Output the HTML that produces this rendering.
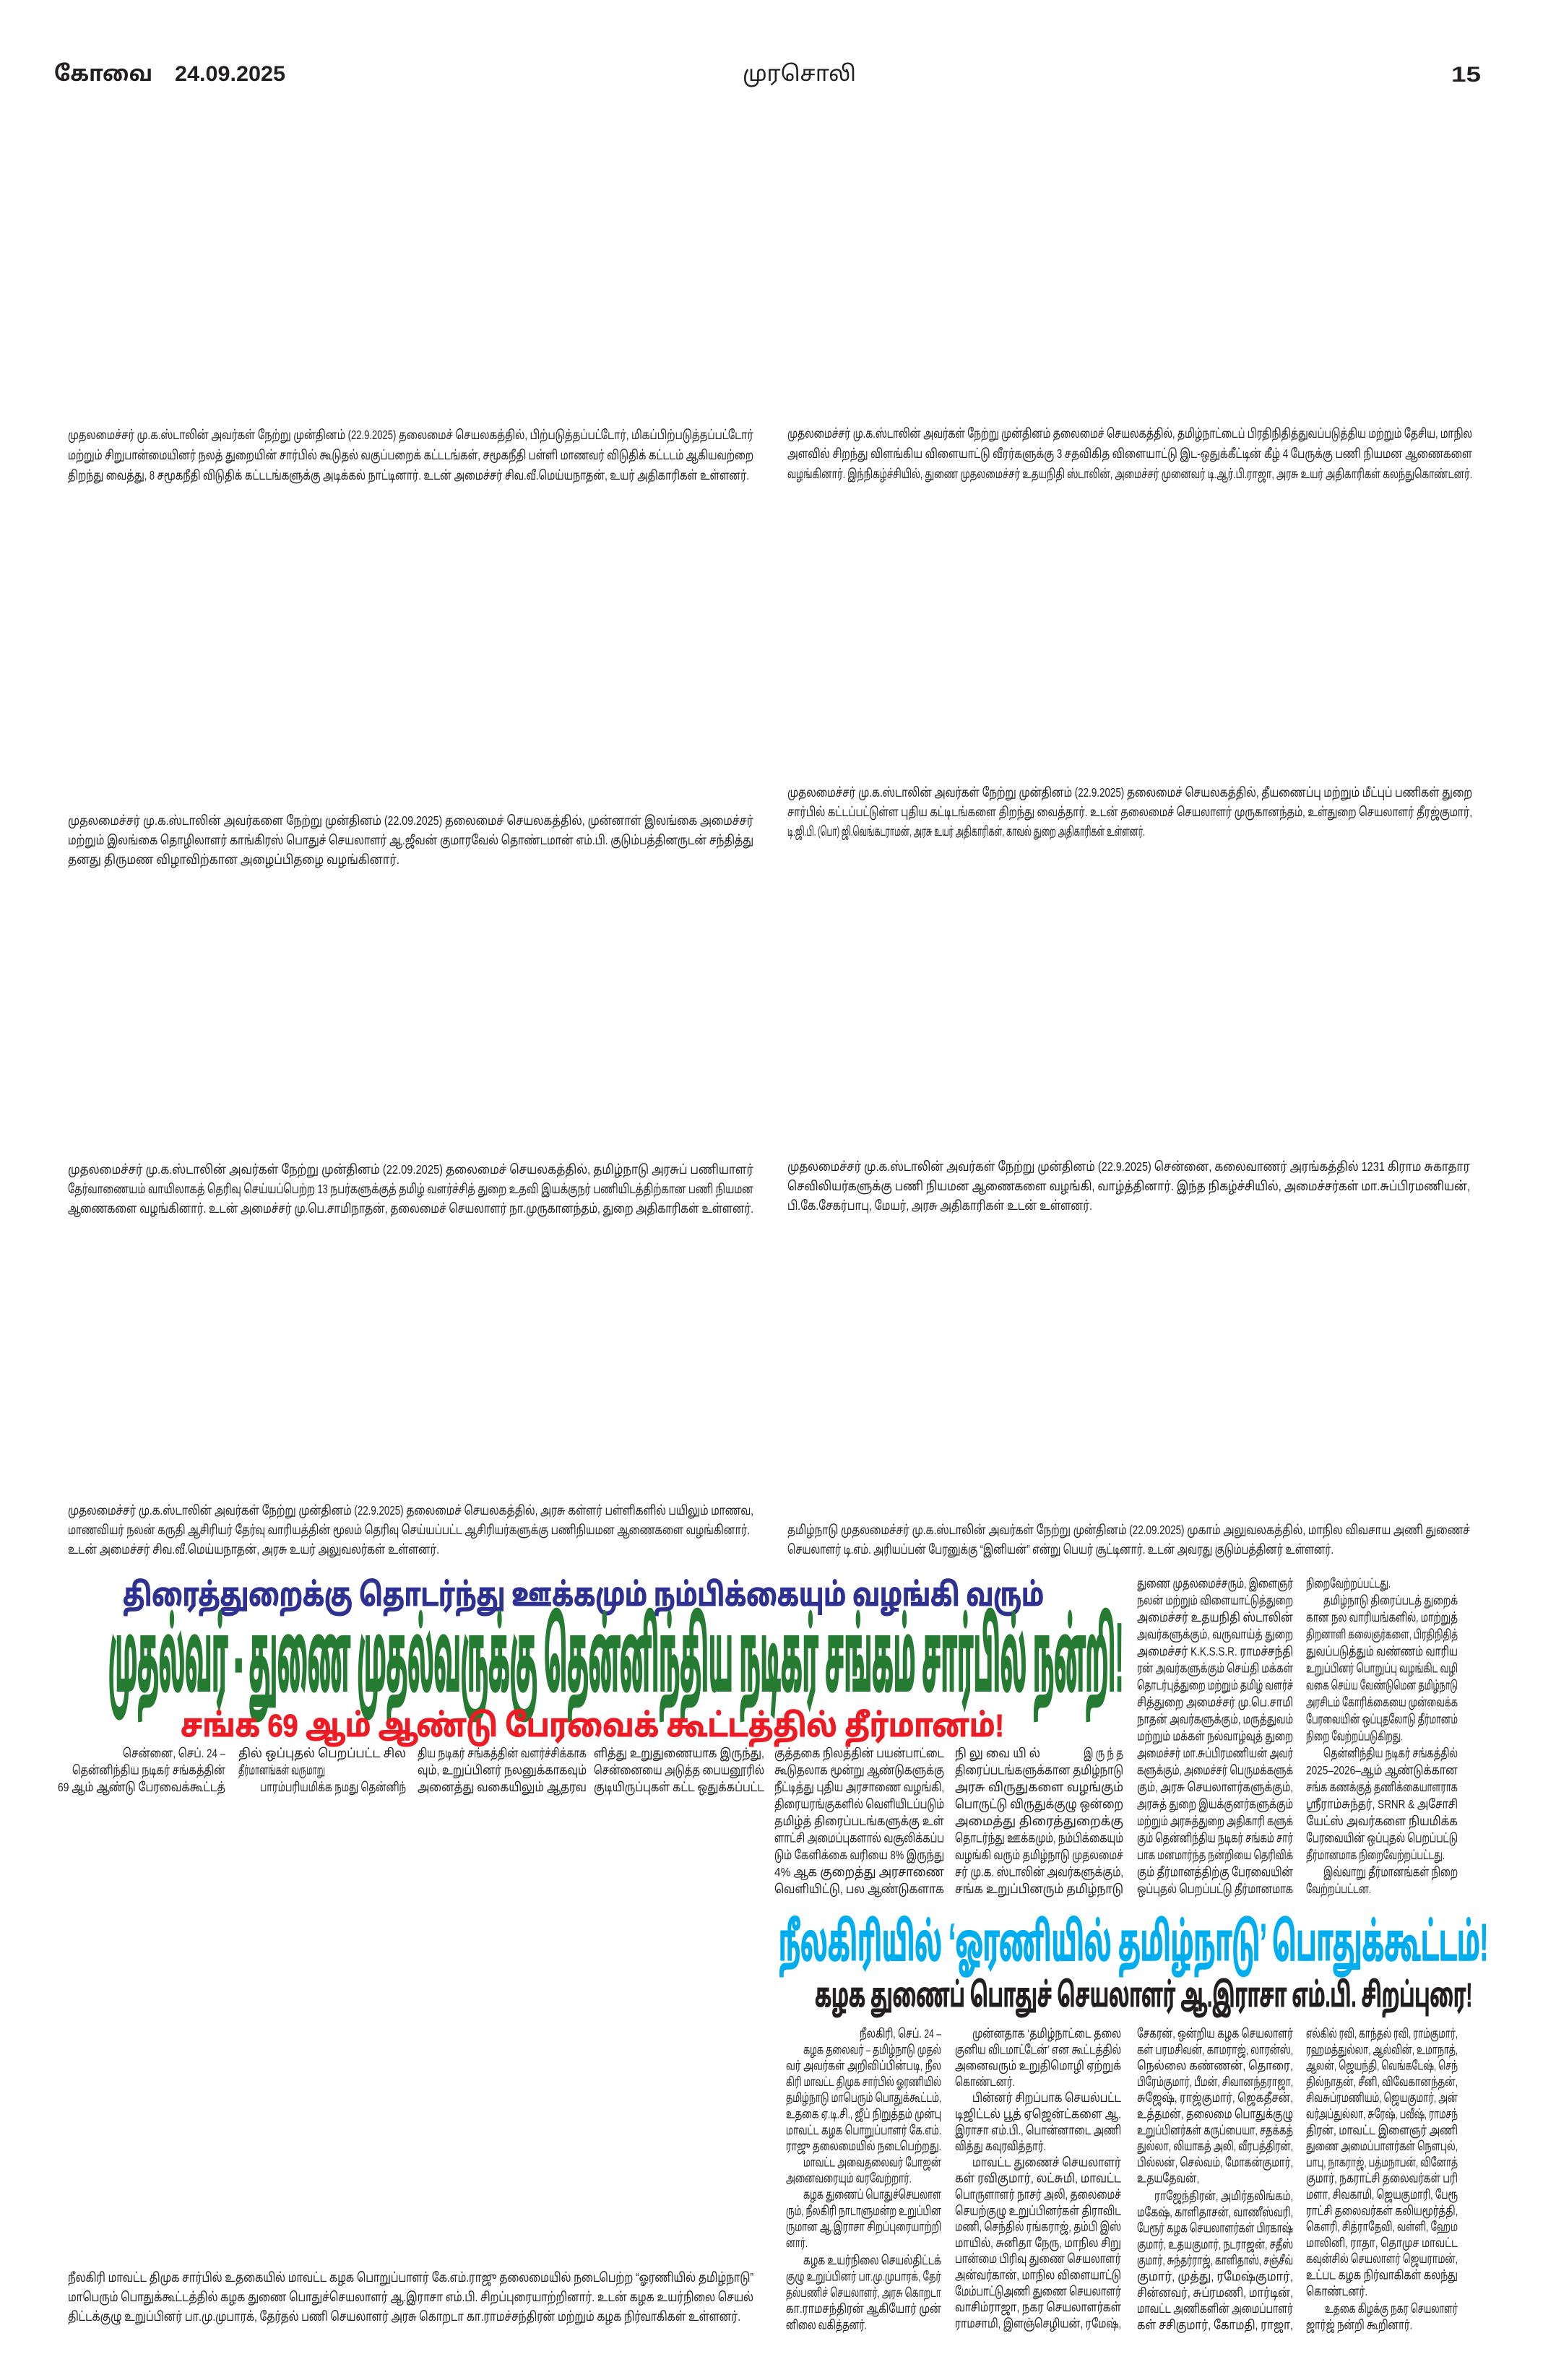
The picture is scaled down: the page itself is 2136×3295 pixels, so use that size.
<!DOCTYPE html>
<html lang="ta">
<head>
<meta charset="utf-8">
<style>
html,body{margin:0;padding:0;background:#fff;}
body{width:2136px;height:3295px;overflow:hidden;}
svg{display:block;}
.t{font-family:"Liberation Sans","Noto Sans Tamil","Lohit Tamil","Latha",sans-serif;font-size:17px;fill:#231f20;}
.c{font-family:"Liberation Sans","Noto Sans Tamil","Lohit Tamil","Latha",sans-serif;font-size:17.5px;fill:#231f20;}
.h{font-family:"Liberation Sans","Noto Sans Tamil","Lohit Tamil","Latha",sans-serif;font-weight:bold;}
</style>
</head>
<body>
<svg width="2136" height="3295" viewBox="0 0 2136 3295" xmlns="http://www.w3.org/2000/svg">
<rect width="2136" height="3295" fill="#fff"/>

<!-- Header -->
<g class="h" font-size="30" fill="#231f20">
<text x="75" y="112" textLength="136" lengthAdjust="spacingAndGlyphs">கோவை</text>
<text x="242" y="112" textLength="153" lengthAdjust="spacingAndGlyphs">24.09.2025</text>
<text x="1028" y="112" textLength="157" lengthAdjust="spacingAndGlyphs" font-weight="normal">முரசொலி</text>
<text x="2009" y="113" textLength="41" lengthAdjust="spacingAndGlyphs">15</text>
</g>

<!-- Captions -->
<g class="c">
<!-- C1 -->
<text x="94" y="608" textLength="949" lengthAdjust="spacingAndGlyphs">முதலமைச்சர் மு.க.ஸ்டாலின் அவர்கள் நேற்று முன்தினம் (22.9.2025) தலைமைச் செயலகத்தில், பிற்படுத்தப்பட்டோர், மிகப்பிற்படுத்தப்பட்டோர்</text>
<text x="94" y="636" textLength="949" lengthAdjust="spacingAndGlyphs">மற்றும் சிறுபான்மையினர் நலத் துறையின் சார்பில் கூடுதல் வகுப்பறைக் கட்டடங்கள், சமூகநீதி பள்ளி மாணவர் விடுதிக் கட்டடம் ஆகியவற்றை</text>
<text x="94" y="664" textLength="943" lengthAdjust="spacingAndGlyphs">திறந்து வைத்து, 8 சமூகநீதி விடுதிக் கட்டடங்களுக்கு அடிக்கல் நாட்டினார். உடன் அமைச்சர் சிவ.வீ.மெய்யநாதன், உயர் அதிகாரிகள் உள்ளனர்.</text>
<!-- C2 -->
<text x="1090" y="606" textLength="948" lengthAdjust="spacingAndGlyphs">முதலமைச்சர் மு.க.ஸ்டாலின் அவர்கள் நேற்று முன்தினம் தலைமைச் செயலகத்தில், தமிழ்நாட்டைப் பிரதிநிதித்துவப்படுத்திய மற்றும் தேசிய, மாநில</text>
<text x="1090" y="634" textLength="948" lengthAdjust="spacingAndGlyphs">அளவில் சிறந்து விளங்கிய விளையாட்டு வீரர்களுக்கு 3 சதவிகித விளையாட்டு இட-ஒதுக்கீட்டின் கீழ் 4 பேருக்கு பணி நியமன ஆணைகளை</text>
<text x="1090" y="662" textLength="948" lengthAdjust="spacingAndGlyphs">வழங்கினார். இந்நிகழ்ச்சியில், துணை முதலமைச்சர் உதயநிதி ஸ்டாலின், அமைச்சர் முனைவர் டி.ஆர்.பி.ராஜா, அரசு உயர் அதிகாரிகள் கலந்துகொண்டனர்.</text>
<!-- C3 -->
<text x="94" y="1142" textLength="949" lengthAdjust="spacingAndGlyphs">முதலமைச்சர் மு.க.ஸ்டாலின் அவர்களை நேற்று முன்தினம் (22.09.2025) தலைமைச் செயலகத்தில், முன்னாள் இலங்கை அமைச்சர்</text>
<text x="94" y="1169" textLength="949" lengthAdjust="spacingAndGlyphs">மற்றும் இலங்கை தொழிலாளர் காங்கிரஸ் பொதுச் செயலாளர் ஆ.ஜீவன் குமாரவேல் தொண்டமான் எம்.பி.  குடும்பத்தினருடன் சந்தித்து</text>
<text x="94" y="1196" textLength="459" lengthAdjust="spacingAndGlyphs">தனது திருமண விழாவிற்கான அழைப்பிதழை வழங்கினார்.</text>
<!-- C4 -->
<text x="1090" y="1103" textLength="948" lengthAdjust="spacingAndGlyphs">முதலமைச்சர் மு.க.ஸ்டாலின் அவர்கள் நேற்று முன்தினம் (22.9.2025) தலைமைச் செயலகத்தில், தீயணைப்பு மற்றும் மீட்புப் பணிகள் துறை</text>
<text x="1090" y="1130" textLength="948" lengthAdjust="spacingAndGlyphs">சார்பில் கட்டப்பட்டுள்ள புதிய கட்டிடங்களை திறந்து வைத்தார். உடன் தலைமைச் செயலாளர் முருகானந்தம், உள்துறை செயலாளர் தீரஜ்குமார்,</text>
<text x="1090" y="1157" textLength="495" lengthAdjust="spacingAndGlyphs">டி.ஜி.பி. (பொ) ஜி.வெங்கடராமன்,  அரசு உயர் அதிகாரிகள், காவல் துறை அதிகாரிகள் உள்ளனர்.</text>
<!-- C5 -->
<text x="94" y="1625" textLength="949" lengthAdjust="spacingAndGlyphs">முதலமைச்சர்   மு.க.ஸ்டாலின் அவர்கள் நேற்று முன்தினம் (22.09.2025) தலைமைச் செயலகத்தில், தமிழ்நாடு அரசுப் பணியாளர்</text>
<text x="94" y="1652" textLength="949" lengthAdjust="spacingAndGlyphs">தேர்வாணையம் வாயிலாகத் தெரிவு செய்யப்பெற்ற 13 நபர்களுக்குத் தமிழ் வளர்ச்சித் துறை உதவி இயக்குநர் பணியிடத்திற்கான பணி நியமன</text>
<text x="94" y="1679" textLength="949" lengthAdjust="spacingAndGlyphs">ஆணைகளை வழங்கினார். உடன்  அமைச்சர் மு.பெ.சாமிநாதன், தலைமைச் செயலாளர் நா.முருகானந்தம், துறை அதிகாரிகள் உள்ளனர்.</text>
<!-- C6 -->
<text x="1090" y="1621" textLength="945" lengthAdjust="spacingAndGlyphs">முதலமைச்சர் மு.க.ஸ்டாலின் அவர்கள் நேற்று முன்தினம் (22.9.2025) சென்னை, கலைவாணர் அரங்கத்தில் 1231 கிராம சுகாதார</text>
<text x="1090" y="1648" textLength="945" lengthAdjust="spacingAndGlyphs">செவிலியர்களுக்கு பணி நியமன ஆணைகளை வழங்கி, வாழ்த்தினார். இந்த நிகழ்ச்சியில், அமைச்சர்கள் மா.சுப்பிரமணியன்,</text>
<text x="1090" y="1675" textLength="422" lengthAdjust="spacingAndGlyphs">பி.கே.சேகர்பாபு, மேயர், அரசு அதிகாரிகள் உடன் உள்ளனர்.</text>
<!-- C7 -->
<text x="94" y="2097" textLength="949" lengthAdjust="spacingAndGlyphs">முதலமைச்சர் மு.க.ஸ்டாலின் அவர்கள் நேற்று முன்தினம் (22.9.2025) தலைமைச் செயலகத்தில், அரசு கள்ளர் பள்ளிகளில் பயிலும் மாணவ,</text>
<text x="94" y="2124" textLength="944" lengthAdjust="spacingAndGlyphs">மாணவியர் நலன் கருதி ஆசிரியர் தேர்வு வாரியத்தின் மூலம் தெரிவு செய்யப்பட்ட ஆசிரியர்களுக்கு பணிநியமன ஆணைகளை வழங்கினார்.</text>
<text x="94" y="2151" textLength="514" lengthAdjust="spacingAndGlyphs">உடன் அமைச்சர் சிவ.வீ.மெய்யநாதன், அரசு உயர் அலுவலர்கள் உள்ளனர்.</text>
<!-- C8 -->
<text x="1090" y="2124" textLength="945" lengthAdjust="spacingAndGlyphs">தமிழ்நாடு முதலமைச்சர் மு.க.ஸ்டாலின் அவர்கள் நேற்று முன்தினம் (22.09.2025) முகாம் அலுவலகத்தில், மாநில விவசாய அணி துணைச்</text>
<text x="1090" y="2151" textLength="756" lengthAdjust="spacingAndGlyphs">செயலாளர் டி.எம். அரியப்பன் பேரனுக்கு “இனியன்” என்று பெயர் சூட்டினார். உடன் அவரது குடும்பத்தினர் உள்ளனர்.</text>
<!-- C9 -->
<text x="94" y="3159" textLength="949" lengthAdjust="spacingAndGlyphs">நீலகிரி மாவட்ட திமுக சார்பில் உதகையில் மாவட்ட கழக பொறுப்பாளர் கே.எம்.ராஜு  தலைமையில் நடைபெற்ற “ஓரணியில் தமிழ்நாடு”</text>
<text x="94" y="3186" textLength="949" lengthAdjust="spacingAndGlyphs">மாபெரும் பொதுக்கூட்டத்தில் கழக துணை பொதுச்செயலாளர் ஆ.இராசா எம்.பி. சிறப்புரையாற்றினார். உடன் கழக உயர்நிலை செயல்</text>
<text x="94" y="3213" textLength="931" lengthAdjust="spacingAndGlyphs">திட்டக்குழு உறுப்பினர் பா.மு.முபாரக்,  தேர்தல் பணி செயலாளர் அரசு கொறடா  கா.ராமச்சந்திரன் மற்றும் கழக நிர்வாகிகள் உள்ளனர்.</text>
</g>

<!-- Headlines: film story -->
<text class="h" x="170" y="2223" font-size="44" fill="#2e3192" stroke="#2e3192" stroke-width="1" textLength="1275" lengthAdjust="spacingAndGlyphs">திரைத்துறைக்கு  தொடர்ந்து  ஊக்கமும்  நம்பிக்கையும்  வழங்கி  வரும்</text>
<text class="h" x="150" y="2340" font-size="132" fill="#267b32" stroke="#267b32" stroke-width="4" textLength="1405" lengthAdjust="spacingAndGlyphs">முதல்வர் - துணை முதல்வருக்கு தென்னிந்திய நடிகர் சங்கம் சார்பில் நன்றி!</text>
<text class="h" x="250" y="2404" font-size="44" fill="#ed1c24" stroke="#ed1c24" stroke-width="1" textLength="1140" lengthAdjust="spacingAndGlyphs">சங்க  69  ஆம்  ஆண்டு  பேரவைக்  கூட்டத்தில்  தீர்மானம்!</text>

<!-- Film story body -->
<g class="t">
<!-- col1 -->
<text x="170" y="2433" textLength="142" lengthAdjust="spacingAndGlyphs">சென்னை, செப். 24 –</text>
<text x="100" y="2456.5" textLength="212" lengthAdjust="spacingAndGlyphs">தென்னிந்திய நடிகர் சங்கத்தின்</text>
<text x="80" y="2480" textLength="232" lengthAdjust="spacingAndGlyphs">69 ஆம் ஆண்டு பேரவைக்கூட்டத்</text>
<!-- col2 -->
<text x="330" y="2433" textLength="232" lengthAdjust="spacingAndGlyphs">தில்  ஒப்புதல்  பெறப்பட்ட  சில</text>
<text x="330" y="2456.5" textLength="120" lengthAdjust="spacingAndGlyphs">தீர்மானங்கள் வருமாறு</text>
<text x="360" y="2480" textLength="202" lengthAdjust="spacingAndGlyphs">பாரம்பரியமிக்க நமது தென்னிந்</text>
<!-- col3 -->
<text x="578" y="2433" textLength="234" lengthAdjust="spacingAndGlyphs">திய நடிகர் சங்கத்தின் வளர்ச்சிக்காக</text>
<text x="578" y="2456.5" textLength="234" lengthAdjust="spacingAndGlyphs">வும்,  உறுப்பினர்  நலனுக்காகவும்</text>
<text x="578" y="2480" textLength="234" lengthAdjust="spacingAndGlyphs">அனைத்து  வகையிலும்  ஆதரவ</text>
<!-- col4 -->
<text x="822" y="2433" textLength="236" lengthAdjust="spacingAndGlyphs">ளித்து  உறுதுணையாக  இருந்து,</text>
<text x="822" y="2456.5" textLength="236" lengthAdjust="spacingAndGlyphs">சென்னையை அடுத்த பையனூரில்</text>
<text x="822" y="2480" textLength="236" lengthAdjust="spacingAndGlyphs">குடியிருப்புகள் கட்ட ஒதுக்கப்பட்ட</text>
<!-- col5 -->
<text x="1072" y="2433" textLength="235" lengthAdjust="spacingAndGlyphs">குத்தகை நிலத்தின் பயன்பாட்டை</text>
<text x="1072" y="2456.5" textLength="235" lengthAdjust="spacingAndGlyphs">கூடுதலாக மூன்று ஆண்டுகளுக்கு</text>
<text x="1072" y="2480" textLength="235" lengthAdjust="spacingAndGlyphs">நீட்டித்து புதிய அரசாணை வழங்கி,</text>
<text x="1072" y="2503.5" textLength="235" lengthAdjust="spacingAndGlyphs">திரையரங்குகளில் வெளியிடப்படும்</text>
<text x="1072" y="2527" textLength="235" lengthAdjust="spacingAndGlyphs">தமிழ்த் திரைப்படங்களுக்கு உள்</text>
<text x="1072" y="2550.5" textLength="235" lengthAdjust="spacingAndGlyphs">ளாட்சி அமைப்புகளால் வசூலிக்கப்ப</text>
<text x="1072" y="2574" textLength="235" lengthAdjust="spacingAndGlyphs">டும் கேளிக்கை வரியை 8% இருந்து</text>
<text x="1072" y="2597.5" textLength="235" lengthAdjust="spacingAndGlyphs">4%  ஆக  குறைத்து  அரசாணை</text>
<text x="1072" y="2621" textLength="235" lengthAdjust="spacingAndGlyphs">வெளியிட்டு,  பல  ஆண்டுகளாக</text>
<!-- col6 -->
<text x="1322" y="2433" textLength="118" lengthAdjust="spacingAndGlyphs">நி லு வை யி ல்</text>
<text x="1500" y="2433" textLength="55" lengthAdjust="spacingAndGlyphs">இ ரு ந் த</text>
<text x="1322" y="2456.5" textLength="233" lengthAdjust="spacingAndGlyphs">திரைப்படங்களுக்கான தமிழ்நாடு</text>
<text x="1322" y="2480" textLength="233" lengthAdjust="spacingAndGlyphs">அரசு   விருதுகளை   வழங்கும்</text>
<text x="1322" y="2503.5" textLength="233" lengthAdjust="spacingAndGlyphs">பொருட்டு  விருதுக்குழு  ஒன்றை</text>
<text x="1322" y="2527" textLength="233" lengthAdjust="spacingAndGlyphs">அமைத்து    திரைத்துறைக்கு</text>
<text x="1322" y="2550.5" textLength="233" lengthAdjust="spacingAndGlyphs">தொடர்ந்து ஊக்கமும், நம்பிக்கையும்</text>
<text x="1322" y="2574" textLength="233" lengthAdjust="spacingAndGlyphs">வழங்கி வரும் தமிழ்நாடு முதலமைச்</text>
<text x="1322" y="2597.5" textLength="233" lengthAdjust="spacingAndGlyphs">சர் மு.க. ஸ்டாலின் அவர்களுக்கும்,</text>
<text x="1322" y="2621" textLength="233" lengthAdjust="spacingAndGlyphs">சங்க உறுப்பினரும்    தமிழ்நாடு</text>
<!-- col7 -->
<text x="1574" y="2198" textLength="216" lengthAdjust="spacingAndGlyphs">துணை முதலமைச்சரும், இளைஞர்</text>
<text x="1574" y="2221.5" textLength="216" lengthAdjust="spacingAndGlyphs">நலன் மற்றும் விளையாட்டுத்துறை</text>
<text x="1574" y="2245" textLength="216" lengthAdjust="spacingAndGlyphs">அமைச்சர்   உதயநிதி  ஸ்டாலின்</text>
<text x="1574" y="2268.5" textLength="216" lengthAdjust="spacingAndGlyphs">அவர்களுக்கும்,   வருவாய்த் துறை</text>
<text x="1574" y="2292" textLength="216" lengthAdjust="spacingAndGlyphs">அமைச்சர்  K.K.S.S.R.  ராமச்சந்தி</text>
<text x="1574" y="2315.5" textLength="216" lengthAdjust="spacingAndGlyphs">ரன் அவர்களுக்கும்  செய்தி மக்கள்</text>
<text x="1574" y="2339" textLength="216" lengthAdjust="spacingAndGlyphs">தொடர்புத்துறை மற்றும் தமிழ் வளர்ச்</text>
<text x="1574" y="2362.5" textLength="216" lengthAdjust="spacingAndGlyphs">சித்துறை  அமைச்சர்   மு.பெ.சாமி</text>
<text x="1574" y="2386" textLength="216" lengthAdjust="spacingAndGlyphs">நாதன் அவர்களுக்கும்,  மருத்துவம்</text>
<text x="1574" y="2409.5" textLength="216" lengthAdjust="spacingAndGlyphs">மற்றும் மக்கள் நல்வாழ்வுத் துறை</text>
<text x="1574" y="2433" textLength="216" lengthAdjust="spacingAndGlyphs">அமைச்சர் மா.சுப்பிரமணியன் அவர்</text>
<text x="1574" y="2456.5" textLength="216" lengthAdjust="spacingAndGlyphs">களுக்கும், அமைச்சர் பெருமக்களுக்</text>
<text x="1574" y="2480" textLength="216" lengthAdjust="spacingAndGlyphs">கும்,  அரசு  செயலாளர்களுக்கும்,</text>
<text x="1574" y="2503.5" textLength="216" lengthAdjust="spacingAndGlyphs">அரசுத்  துறை  இயக்குனர்களுக்கும்</text>
<text x="1574" y="2527" textLength="216" lengthAdjust="spacingAndGlyphs">மற்றும் அரசுத்துறை அதிகாரி களுக்</text>
<text x="1574" y="2550.5" textLength="216" lengthAdjust="spacingAndGlyphs">கும் தென்னிந்திய நடிகர் சங்கம் சார்</text>
<text x="1574" y="2574" textLength="216" lengthAdjust="spacingAndGlyphs">பாக மனமார்ந்த நன்றியை தெரிவிக்</text>
<text x="1574" y="2597.5" textLength="216" lengthAdjust="spacingAndGlyphs">கும் தீர்மானத்திற்கு பேரவையின்</text>
<text x="1574" y="2621" textLength="216" lengthAdjust="spacingAndGlyphs">ஒப்புதல் பெறப்பட்டு தீர்மானமாக</text>
<!-- col8 -->
<text x="1808" y="2198" textLength="117" lengthAdjust="spacingAndGlyphs">நிறைவேற்றப்பட்டது.</text>
<text x="1832" y="2221.5" textLength="186" lengthAdjust="spacingAndGlyphs">தமிழ்நாடு திரைப்படத் துறைக்</text>
<text x="1808" y="2245" textLength="210" lengthAdjust="spacingAndGlyphs">கான நல வாரியங்களில், மாற்றுத்</text>
<text x="1808" y="2268.5" textLength="210" lengthAdjust="spacingAndGlyphs">திறனாளி கலைஞர்களை, பிரதிநிதித்</text>
<text x="1808" y="2292" textLength="210" lengthAdjust="spacingAndGlyphs">துவப்படுத்தும்  வண்ணம்  வாரிய</text>
<text x="1808" y="2315.5" textLength="210" lengthAdjust="spacingAndGlyphs">உறுப்பினர் பொறுப்பு வழங்கிட வழி</text>
<text x="1808" y="2339" textLength="210" lengthAdjust="spacingAndGlyphs">வகை செய்ய வேண்டுமென தமிழ்நாடு</text>
<text x="1808" y="2362.5" textLength="210" lengthAdjust="spacingAndGlyphs">அரசிடம் கோரிக்கையை முன்வைக்க</text>
<text x="1808" y="2386" textLength="210" lengthAdjust="spacingAndGlyphs">பேரவையின் ஒப்புதலோடு தீர்மானம்</text>
<text x="1808" y="2409.5" textLength="134" lengthAdjust="spacingAndGlyphs">நிறை வேற்றப்படுகிறது.</text>
<text x="1832" y="2433" textLength="186" lengthAdjust="spacingAndGlyphs">தென்னிந்திய நடிகர் சங்கத்தில்</text>
<text x="1808" y="2456.5" textLength="210" lengthAdjust="spacingAndGlyphs">2025–2026–ஆம்  ஆண்டுக்கான</text>
<text x="1808" y="2480" textLength="210" lengthAdjust="spacingAndGlyphs">சங்க கணக்குத் தணிக்கையாளராக</text>
<text x="1808" y="2503.5" textLength="210" lengthAdjust="spacingAndGlyphs">ஸ்ரீராம்சுந்தர், SRNR &amp; அசோசி</text>
<text x="1808" y="2527" textLength="210" lengthAdjust="spacingAndGlyphs">யேட்ஸ்   அவர்களை   நியமிக்க</text>
<text x="1808" y="2550.5" textLength="210" lengthAdjust="spacingAndGlyphs">பேரவையின் ஒப்புதல் பெறப்பட்டு</text>
<text x="1808" y="2574" textLength="192" lengthAdjust="spacingAndGlyphs">தீர்மானமாக நிறைவேற்றப்பட்டது.</text>
<text x="1832" y="2597.5" textLength="186" lengthAdjust="spacingAndGlyphs">இவ்வாறு தீர்மானங்கள் நிறை</text>
<text x="1808" y="2621" textLength="90" lengthAdjust="spacingAndGlyphs">வேற்றப்பட்டன.</text>
</g>

<!-- Nilgiris headlines -->
<text class="h" x="1078" y="2714" font-size="72" fill="#00aeef" stroke="#00aeef" stroke-width="1.5" textLength="982" lengthAdjust="spacingAndGlyphs">நீலகிரியில் ‘ஓரணியில் தமிழ்நாடு’ பொதுக்கூட்டம்!</text>
<text class="h" x="1128" y="2778" font-size="46" fill="#231f20" stroke="#231f20" stroke-width="1" textLength="910" lengthAdjust="spacingAndGlyphs">கழக துணைப் பொதுச் செயலாளர் ஆ.இராசா எம்.பி. சிறப்புரை!</text>

<!-- Nilgiris body -->
<g class="t">
<!-- col1 -->
<text x="1190" y="2821" textLength="113" lengthAdjust="spacingAndGlyphs">நீலகிரி, செப். 24 –</text>
<text x="1112" y="2843.3" textLength="191" lengthAdjust="spacingAndGlyphs">கழக தலைவர் – தமிழ்நாடு முதல்</text>
<text x="1088" y="2865.6" textLength="215" lengthAdjust="spacingAndGlyphs">வர் அவர்கள் அறிவிப்பின்படி, நீல</text>
<text x="1088" y="2887.9" textLength="215" lengthAdjust="spacingAndGlyphs">கிரி மாவட்ட திமுக சார்பில் ஓரணியில்</text>
<text x="1088" y="2910.2" textLength="215" lengthAdjust="spacingAndGlyphs">தமிழ்நாடு மாபெரும் பொதுக்கூட்டம்,</text>
<text x="1088" y="2932.5" textLength="215" lengthAdjust="spacingAndGlyphs">உதகை ஏ.டி.சி., ஜீப் நிறுத்தம் முன்பு</text>
<text x="1088" y="2954.8" textLength="215" lengthAdjust="spacingAndGlyphs">மாவட்ட கழக பொறுப்பாளர் கே.எம்.</text>
<text x="1088" y="2977.1" textLength="215" lengthAdjust="spacingAndGlyphs">ராஜு   தலைமையில் நடைபெற்றது.</text>
<text x="1112" y="2999.4" textLength="191" lengthAdjust="spacingAndGlyphs">மாவட்ட அவைதலைவர் போஜன்</text>
<text x="1088" y="3021.7" textLength="174" lengthAdjust="spacingAndGlyphs">அனைவரையும் வரவேற்றார்.</text>
<text x="1112" y="3044" textLength="191" lengthAdjust="spacingAndGlyphs">கழக துணைப் பொதுச்செயலாள</text>
<text x="1088" y="3066.3" textLength="215" lengthAdjust="spacingAndGlyphs">ரும், நீலகிரி நாடாளுமன்ற உறுப்பின</text>
<text x="1088" y="3088.6" textLength="215" lengthAdjust="spacingAndGlyphs">ருமான  ஆ.இராசா சிறப்புரையாற்றி</text>
<text x="1088" y="3110.9" textLength="30" lengthAdjust="spacingAndGlyphs">னார்.</text>
<text x="1112" y="3135.2" textLength="191" lengthAdjust="spacingAndGlyphs">கழக  உயர்நிலை  செயல்திட்டக்</text>
<text x="1088" y="3157.5" textLength="215" lengthAdjust="spacingAndGlyphs">குழு உறுப்பினர் பா.மு.முபாரக், தேர்</text>
<text x="1088" y="3179.8" textLength="215" lengthAdjust="spacingAndGlyphs">தல்பணிச் செயலாளர், அரசு கொறடா</text>
<text x="1088" y="3202.1" textLength="215" lengthAdjust="spacingAndGlyphs">கா.ராமசந்திரன்  ஆகியோர்  முன்</text>
<text x="1088" y="3224.4" textLength="112" lengthAdjust="spacingAndGlyphs">னிலை வகித்தனர்.</text>
<!-- col2 -->
<text x="1346" y="2821" textLength="206" lengthAdjust="spacingAndGlyphs">முன்னதாக ‘தமிழ்நாட்டை தலை</text>
<text x="1322" y="2843.3" textLength="230" lengthAdjust="spacingAndGlyphs">குனிய விடமாட்டேன்’ என கூட்டத்தில்</text>
<text x="1322" y="2865.6" textLength="230" lengthAdjust="spacingAndGlyphs">அனைவரும்  உறுதிமொழி  ஏற்றுக்</text>
<text x="1322" y="2887.9" textLength="83" lengthAdjust="spacingAndGlyphs">கொண்டனர்.</text>
<text x="1346" y="2910.2" textLength="206" lengthAdjust="spacingAndGlyphs">பின்னர்  சிறப்பாக  செயல்பட்ட</text>
<text x="1322" y="2932.5" textLength="230" lengthAdjust="spacingAndGlyphs">டிஜிட்டல்  பூத்  ஏஜென்ட்களை  ஆ.</text>
<text x="1322" y="2954.8" textLength="230" lengthAdjust="spacingAndGlyphs">இராசா எம்.பி.,  பொன்னாடை அணி</text>
<text x="1322" y="2977.1" textLength="126" lengthAdjust="spacingAndGlyphs">வித்து கவுரவித்தார்.</text>
<text x="1346" y="2999.4" textLength="206" lengthAdjust="spacingAndGlyphs">மாவட்ட  துணைச்  செயலாளர்</text>
<text x="1322" y="3021.7" textLength="230" lengthAdjust="spacingAndGlyphs">கள்  ரவிகுமார்,  லட்சுமி,  மாவட்ட</text>
<text x="1322" y="3044" textLength="230" lengthAdjust="spacingAndGlyphs">பொருளாளர் நாசர் அலி, தலைமைச்</text>
<text x="1322" y="3066.3" textLength="230" lengthAdjust="spacingAndGlyphs">செயற்குழு  உறுப்பினர்கள்  திராவிட</text>
<text x="1322" y="3088.6" textLength="230" lengthAdjust="spacingAndGlyphs">மணி, செந்தில் ரங்கராஜ், தம்பி இஸ்</text>
<text x="1322" y="3110.9" textLength="230" lengthAdjust="spacingAndGlyphs">மாயில், சுனிதா நேரு, மாநில சிறு</text>
<text x="1322" y="3133.2" textLength="230" lengthAdjust="spacingAndGlyphs">பான்மை பிரிவு துணை செயலாளர்</text>
<text x="1322" y="3155.5" textLength="230" lengthAdjust="spacingAndGlyphs">அன்வர்கான், மாநில விளையாட்டு</text>
<text x="1322" y="3177.8" textLength="230" lengthAdjust="spacingAndGlyphs">மேம்பாட்டுஅணி துணை செயலாளர்</text>
<text x="1322" y="3200.1" textLength="230" lengthAdjust="spacingAndGlyphs">வாசிம்ராஜா,  நகர  செயலாளர்கள்</text>
<text x="1322" y="3222.4" textLength="230" lengthAdjust="spacingAndGlyphs">ராமசாமி,  இளஞ்செழியன்,  ரமேஷ்,</text>
<!-- col3 -->
<text x="1574" y="2821" textLength="216" lengthAdjust="spacingAndGlyphs">சேகரன்,  ஒன்றிய  கழக  செயலாளர்</text>
<text x="1574" y="2843.3" textLength="216" lengthAdjust="spacingAndGlyphs">கள் பரமசிவன், காமராஜ், லாரன்ஸ்,</text>
<text x="1574" y="2865.6" textLength="216" lengthAdjust="spacingAndGlyphs">நெல்லை    கண்ணன்,    தொரை,</text>
<text x="1574" y="2887.9" textLength="216" lengthAdjust="spacingAndGlyphs">பிரேம்குமார், பீமன், சிவானந்தராஜா,</text>
<text x="1574" y="2910.2" textLength="216" lengthAdjust="spacingAndGlyphs">சுஜேஷ்,   ராஜ்குமார்,   ஜெகதீசன்,</text>
<text x="1574" y="2932.5" textLength="216" lengthAdjust="spacingAndGlyphs">உத்தமன்,  தலைமை  பொதுக்குழு</text>
<text x="1574" y="2954.8" textLength="216" lengthAdjust="spacingAndGlyphs">உறுப்பினர்கள் கருப்பையா, சதக்கத்</text>
<text x="1574" y="2977.1" textLength="216" lengthAdjust="spacingAndGlyphs">துல்லா, லியாகத் அலி, வீரபத்திரன்,</text>
<text x="1574" y="2999.4" textLength="216" lengthAdjust="spacingAndGlyphs">பில்லன்,  செல்வம்,  மோகன்குமார்,</text>
<text x="1574" y="3021.7" textLength="86" lengthAdjust="spacingAndGlyphs">உதயதேவன்,</text>
<text x="1598" y="3046" textLength="192" lengthAdjust="spacingAndGlyphs">ராஜேந்திரன்,     அமிர்தலிங்கம்,</text>
<text x="1574" y="3068.3" textLength="216" lengthAdjust="spacingAndGlyphs">மகேஷ்,  காளிதாசன்,  வாணீஸ்வரி,</text>
<text x="1574" y="3090.6" textLength="216" lengthAdjust="spacingAndGlyphs">பேரூர் கழக செயலாளர்கள் பிரகாஷ்</text>
<text x="1574" y="3112.9" textLength="216" lengthAdjust="spacingAndGlyphs">குமார், உதயகுமார், நடராஜன், சதீஸ்</text>
<text x="1574" y="3135.2" textLength="216" lengthAdjust="spacingAndGlyphs">குமார், சுந்தர்ராஜ், காளிதாஸ், சஞ்சீவ்</text>
<text x="1574" y="3157.5" textLength="216" lengthAdjust="spacingAndGlyphs">குமார்,     முத்து,     ரமேஷ்குமார்,</text>
<text x="1574" y="3179.8" textLength="216" lengthAdjust="spacingAndGlyphs">சின்னவர்,     சுப்ரமணி,     மார்டின்,</text>
<text x="1574" y="3202.1" textLength="216" lengthAdjust="spacingAndGlyphs">மாவட்ட  அணிகளின்  அமைப்பாளர்</text>
<text x="1574" y="3224.4" textLength="216" lengthAdjust="spacingAndGlyphs">கள்   சசிகுமார்,   கோமதி,   ராஜா,</text>
<!-- col4 -->
<text x="1808" y="2821" textLength="210" lengthAdjust="spacingAndGlyphs">எல்கில் ரவி, காந்தல் ரவி, ராம்குமார்,</text>
<text x="1808" y="2843.3" textLength="210" lengthAdjust="spacingAndGlyphs">ரஹமத்துல்லா, ஆல்வின், உமாநாத்,</text>
<text x="1808" y="2865.6" textLength="210" lengthAdjust="spacingAndGlyphs">ஆலன், ஜெயந்தி, வெங்கடேஷ், செந்</text>
<text x="1808" y="2887.9" textLength="210" lengthAdjust="spacingAndGlyphs">தில்நாதன்,  சீனி,  விவேகானந்தன்,</text>
<text x="1808" y="2910.2" textLength="210" lengthAdjust="spacingAndGlyphs">சிவசுப்ரமணியம், ஜெயகுமார், அன்</text>
<text x="1808" y="2932.5" textLength="210" lengthAdjust="spacingAndGlyphs">வர்அப்துல்லா, சுரேஷ், பவீஷ், ராமசந்</text>
<text x="1808" y="2954.8" textLength="210" lengthAdjust="spacingAndGlyphs">திரன்,   மாவட்ட   இளைஞர்   அணி</text>
<text x="1808" y="2977.1" textLength="210" lengthAdjust="spacingAndGlyphs">துணை அமைப்பாளர்கள் நௌபுல்,</text>
<text x="1808" y="2999.4" textLength="210" lengthAdjust="spacingAndGlyphs">பாபு, நாகராஜ், பத்மநாபன், வினோத்</text>
<text x="1808" y="3021.7" textLength="210" lengthAdjust="spacingAndGlyphs">குமார்,  நகராட்சி  தலைவர்கள்  பரி</text>
<text x="1808" y="3044" textLength="210" lengthAdjust="spacingAndGlyphs">மளா,  சிவகாமி,  ஜெயகுமாரி,  பேரூ</text>
<text x="1808" y="3066.3" textLength="210" lengthAdjust="spacingAndGlyphs">ராட்சி   தலைவர்கள்   கலியமூர்த்தி,</text>
<text x="1808" y="3088.6" textLength="210" lengthAdjust="spacingAndGlyphs">கௌரி,  சித்ராதேவி,  வள்ளி,  ஹேம</text>
<text x="1808" y="3110.9" textLength="210" lengthAdjust="spacingAndGlyphs">மாலினி,  ராதா,   தொமுச  மாவட்ட</text>
<text x="1808" y="3133.2" textLength="210" lengthAdjust="spacingAndGlyphs">கவுன்சில்  செயலாளர்  ஜெயராமன்,</text>
<text x="1808" y="3155.5" textLength="210" lengthAdjust="spacingAndGlyphs">உட்பட  கழக  நிர்வாகிகள்   கலந்து</text>
<text x="1808" y="3177.8" textLength="85" lengthAdjust="spacingAndGlyphs">கொண்டனர்.</text>
<text x="1834" y="3202.1" textLength="184" lengthAdjust="spacingAndGlyphs">உதகை கிழக்கு நகர செயலாளர்</text>
<text x="1808" y="3224.4" textLength="147" lengthAdjust="spacingAndGlyphs">ஜார்ஜ் நன்றி கூறினார்.</text>
</g>
</svg>
</body>
</html>
